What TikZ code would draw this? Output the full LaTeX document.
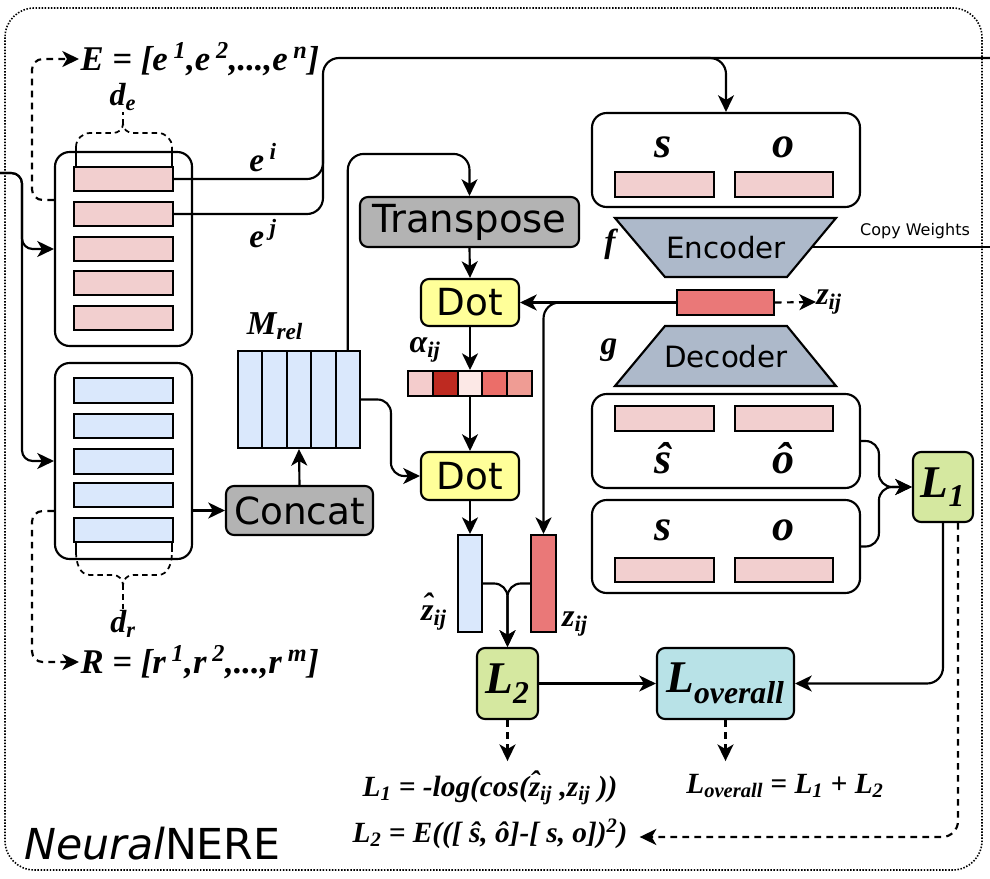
\documentclass[tikz,border=0pt]{standalone}
\usepackage{fontspec}
\setmainfont{Liberation Serif}
\setsansfont{DejaVu Sans}
\usetikzlibrary{arrows.meta,fit,calc}
\newcommand\fsz[1]{\fontsize{#1}{#1}\selectfont}
\newcommand\mysb[1]{\textsubscript{#1}}
\newcommand\mysp[1]{\textsuperscript{#1}}
\newcommand\hatx[1]{{\setbox0\hbox{#1}\rlap{\hbox to\wd0{\hss\raisebox{0.16em}{ˆ}\hss}}\box0}}
\definecolor{pinkbar}{HTML}{F2CFCF}
\definecolor{bluebar}{HTML}{DAE8FC}
\definecolor{redbar}{HTML}{EA7878}
\definecolor{grayb}{HTML}{B3B3B3}
\definecolor{yellowb}{HTML}{FFFF99}
\definecolor{encb}{HTML}{ADB9CA}
\definecolor{greenb}{HTML}{D5E8A0}
\definecolor{cyanb}{HTML}{B8E2E7}
\definecolor{alA}{HTML}{F4CCCC}
\definecolor{alB}{HTML}{BE2A21}
\definecolor{alC}{HTML}{FCE8E6}
\definecolor{alD}{HTML}{EB6E69}
\definecolor{alE}{HTML}{EF9C94}
\tikzset{
  ln/.style={line width=1.6pt},
  arr/.style={ln, -{Stealth[length=12.5pt,width=12pt,inset=3.5pt]}},
  darr/.style={arr, dash pattern=on 5pt off 4pt},
  dln/.style={line width=1.3pt, dash pattern=on 4pt off 3pt},
  barsty/.style={draw, line width=1.5pt, inner sep=0pt},
  roundbox/.style={draw, line width=1.6pt, rounded corners=11pt, inner sep=0pt},
  procbox/.style={draw, line width=1.6pt, rounded corners=6pt, inner sep=0pt},
  lab/.style={font=\fsz{25}\bfseries\itshape, inner sep=0pt},
  biglab/.style={font=\fsz{33}\bfseries\itshape, inner sep=0pt},
  eqlab/.style={font=\fsz{22}\bfseries\itshape, inner sep=0pt},
  boxlab/.style={font=\fsz{34}\bfseries\itshape, inner sep=0pt},
  sanslab/.style={font=\sffamily\fsz{28}, inner sep=0pt},
  trap/.style={draw, line width=1.6pt, fill=encb},
}
\begin{document}
\begin{tikzpicture}[x=0.75pt,y=-0.75pt]
\useasboundingbox (0,0) rectangle (990,879);
% outer frame
\draw[line width=1.2pt, dash pattern=on 1.1pt off 1.2pt, rounded corners=22pt] (5,8) rectangle (982,870);

% embedding box
\node[roundbox, fit={(55,152)(192,346)}] (ebox) {};
\foreach \i/\a/\b in {1/167/191,2/202/226,3/237/261,4/271/295,5/306/330}
  \node[barsty, fill=pinkbar, fit={(74,\a)(173,\b)}] (e\i) {};
% relation box
\node[roundbox, fit={(55,363)(192,559)}] (rbx) {};
\foreach \i/\a/\b in {1/378/403,2/414/438,3/449/474,4/483/507,5/518/542}
  \node[barsty, fill=bluebar, fit={(74,\a)(173,\b)}] (r\i) {};

% braces
\draw[line width=1pt] (76,147) -- (76,167) (172,147) -- (172,167);
\draw[dln] (76,147) to[out=90,in=180] (90,133) -- (113,133) to[out=0,in=-90] (123,124) to[out=-90,in=180] (133,133) -- (158,133) to[out=0,in=90] (172,147);
\node[font=\fsz{24}\bfseries\itshape, inner sep=1pt] (de) at (123,97) {d\mysb{e}};
\draw[dln] (123,124) -- (de.south);
\draw[line width=1pt] (76,542) -- (76,552) (172,542) -- (172,552);
\draw[dln] (76,552) to[out=-90,in=180] (90,575) -- (113,575) to[out=0,in=90] (123,585) to[out=90,in=180] (133,575) -- (158,575) to[out=0,in=-90] (172,552);
\node[font=\fsz{24}\bfseries\itshape, inner sep=1pt] (dr) at (123,624) {d\mysb{r}};
\draw[dln] (123,585) -- (dr.north);

% E and R labels
\node[font=\fsz{26}\bfseries\itshape, anchor=west, inner sep=1pt] (Elab) at (79,59) {E = [e\,\mysp{1},e\,\mysp{2},...,e\,\mysp{n}]};
\node[font=\fsz{26}\bfseries\itshape, anchor=west, inner sep=1pt] (Rlab) at (79,662) {R = [r\,\mysp{1},r\,\mysp{2},...,r\,\mysp{m}]};
\draw[darr, rounded corners=8pt] ($(ebox.west)+(0,-49)$) -| ($(Elab.west)+(-47,0)$) -- (Elab.west);
\draw[darr, rounded corners=8pt] ($(rbx.west)+(0,50)$) -| ($(Rlab.west)+(-47,0)$) -- (Rlab.west);

% input
\coordinate (inp) at (0,173);
\draw[arr, rounded corners=8pt] (inp) -- (22,173) |- (ebox.west);
\draw[arr, rounded corners=8pt] (inp) -- (22,173) |- (rbx.west);

% e^i, e^j lines
\coordinate (topout) at (990,58);
\draw[ln, rounded corners=12pt] (e1.east) -| (323,58) -- (topout);
\draw[ln, rounded corners=12pt] (e2.east) -| (323,150);
\node[lab] (ei) at (263,158) {e\,\mysp{i}};
\node[lab] (ej) at (263,234) {e\,\mysp{j}};

% M_rel
\foreach \i in {1,...,5}
  \node[barsty, fill=bluebar, fit={({238+(\i-1)*24.4},351)({238+\i*24.4},448)}] (m\i) {};
\node[lab] (mrel) at (275,326) {M\mysb{rel}};

% Concat
\node[procbox, fill=grayb, fit={(226,486)(373,535)}] (cc) {};
\node[sanslab] (cct) at (cc.center) {Concat};
\draw[arr] (rbx.east |- cc.west) -- (cc.west);
\draw[arr] (cc.north) -- (m3.south);

% Transpose
\node[procbox, fill=grayb, fit={(360,197)(579,247)}] (tr) {};
\node[font=\sffamily\fsz{29}, inner sep=0pt] (trt) at (tr.center) {Transpose};
\draw[arr, rounded corners=12pt] (m5.north) |- ($(tr.north)+(0,-42)$) -- (tr.north);

% Dots
\node[procbox, fill=yellowb, fit={(421,279)(519,326)}] (dot1) {};
\node[sanslab] (dot1t) at (dot1.center) {Dot};
\node[procbox, fill=yellowb, fit={(421,452)(519,500)}] (dot2) {};
\node[sanslab] (dot2t) at (dot2.center) {Dot};
\draw[arr] (tr.south) -- (dot1.north);

% alpha
\foreach \i/\c in {1/alA,2/alB,3/alC,4/alD,5/alE}
  \node[barsty, fill=\c, fit={({408+(\i-1)*24.8},371)({408+\i*24.8},396)}] (a\i) {};
\node[font=\fsz{24}\bfseries\itshape, inner sep=0pt] (alab) at (425,350) {α\mysb{ij}};
\draw[arr] (dot1.south) -- (a3.north);
\draw[arr] (a3.south) -- (dot2.north);
\draw[arr, rounded corners=10pt] (m5.east) -| ($(dot2.west)+(-29,0)$) -- (dot2.west);

% encoder output
\node[barsty, fill=redbar, fit={(677,290)(774,315)}] (zb) {};
\node[font=\fsz{24}\bfseries\itshape, anchor=west, inner sep=0pt] (zl) at (816,302) {z\mysb{ij}};
\draw[darr] (zb.east) -- (zl.west);

% columns
\node[barsty, fill=bluebar, fit={(458,535)(482,632)}] (bcol) {};
\node[barsty, fill=redbar, fit={(531,535)(556,632)}] (zc) {};
\draw[arr] (dot2.south) -- (bcol.north);
\draw[arr] (zb.west) -- (dot1.east);
\draw[arr, rounded corners=12pt] (zb.west) -| (zc.north);
\node[font=\fsz{24}\bfseries\itshape, inner sep=0pt] (zhl) at (434,612) {\hatx{z}\mysb{ij}};
\node[font=\fsz{24}\bfseries\itshape, inner sep=0pt] (zcl) at (575,624) {z\mysb{ij}};

% losses
\node[procbox, fill=greenb, fit={(477,648)(538,719)}] (L2) {};
\node[boxlab] (L2t) at (L2.center) {L\mysb{2}};
\node[procbox, fill=cyanb, fit={(657,648)(794,719)}] (Lov) {};
\node[boxlab] (Lovt) at (Lov.center) {L\mysb{overall}};
\node[procbox, fill=greenb, fit={(913,452)(973,522)}] (L1) {};
\node[boxlab] (L1t) at (L1.center) {L\mysb{1}};
\draw[arr, rounded corners=10pt] (bcol.east) -| (L2.north);
\draw[arr, rounded corners=10pt] (zc.west) -| (L2.north);
\draw[arr] (L2.east) -- (Lov.west);
\draw[arr, rounded corners=12pt] (L1.south) |- (Lov.east);

% equations
\node[eqlab] (eq1) at (490,788) {L\mysb{1} = -log(cos(\hatx{z}\mysb{ij} ,z\mysb{ij} ))};
\node[eqlab] (eq2) at (490,834) {L\mysb{2} = E(([ ŝ, ô]-[ s, o])\mysp{2})};
\node[eqlab] (eq3) at (785,786) {L\mysb{overall} = L\mysb{1} + L\mysb{2}};
\coordinate (t1) at ($(L2.south)+(0,41)$);
\coordinate (t2) at ($(Lov.south)+(0,41)$);
\draw[darr] (L2.south) -- (t1);
\draw[darr] (Lov.south) -- (t2);
\draw[darr, rounded corners=12pt] ($(L1.south)+(15,0)$) |- ($(eq2.east)+(12,3)$);

% right side: s/o box
\node[roundbox, fit={(592,113)(860,207)}] (sobox) {};
\draw[arr, rounded corners=12pt] (690,58) -| (sobox.north);
\node[biglab] (s1) at (663,147) {s};
\node[biglab] (o1) at (783,147) {o};
\node[barsty, fill=pinkbar, fit={(615,172)(714,197)}] (sb1) {};
\node[barsty, fill=pinkbar, fit={(735,172)(833,197)}] (ob1) {};

% encoder / decoder
\draw[trap] (615,218) -- (836,218) -- (787,277) -- (665,277) -- cycle;
\node[font=\sffamily\fsz{22}, inner sep=0pt] (enc) at (726,248) {Encoder};
\draw[trap] (665,326) -- (787,326) -- (836,386) -- (615,386) -- cycle;
\node[font=\sffamily\fsz{22}, inner sep=0pt] (dec) at (726,357) {Decoder};
\node[lab] (flab) at (610,244) {f};
\node[lab] (glab) at (609,350) {g};
\coordinate (encR) at (812,247);
\coordinate (cwout) at (990,247);
\draw[ln] (encR) -- (cwout);
\node[font=\sffamily\fsz{12}, inner sep=0pt] (cw) at (915,231) {Copy Weights};

% reconstructed box
\node[roundbox, fit={(592,394)(860,488)}] (shbox) {};
\node[barsty, fill=pinkbar, fit={(615,406)(714,431)}] (sb2) {};
\node[barsty, fill=pinkbar, fit={(735,406)(833,431)}] (ob2) {};
\node[biglab] (s2) at (663,458) {ŝ};
\node[biglab] (o2) at (783,458) {ô};
% original box
\node[roundbox, fit={(592,500)(860,593)}] (so2) {};
\node[biglab] (s3) at (663,530) {s};
\node[biglab] (o3) at (783,530) {o};
\node[barsty, fill=pinkbar, fit={(615,558)(714,582)}] (sb3) {};
\node[barsty, fill=pinkbar, fit={(735,558)(833,582)}] (ob3) {};
\draw[arr, rounded corners=10pt] (shbox.east) -| ($(L1.west)+(-33,0)$) -- (L1.west);
\draw[arr, rounded corners=10pt] (so2.east) -| ($(L1.west)+(-33,0)$) -- (L1.west);

% title
\node[font=\sffamily\fsz{32}, anchor=west, inner sep=0pt] (title) at (24,844) {\textit{Neural}NERE};
\end{tikzpicture}
\end{document}
